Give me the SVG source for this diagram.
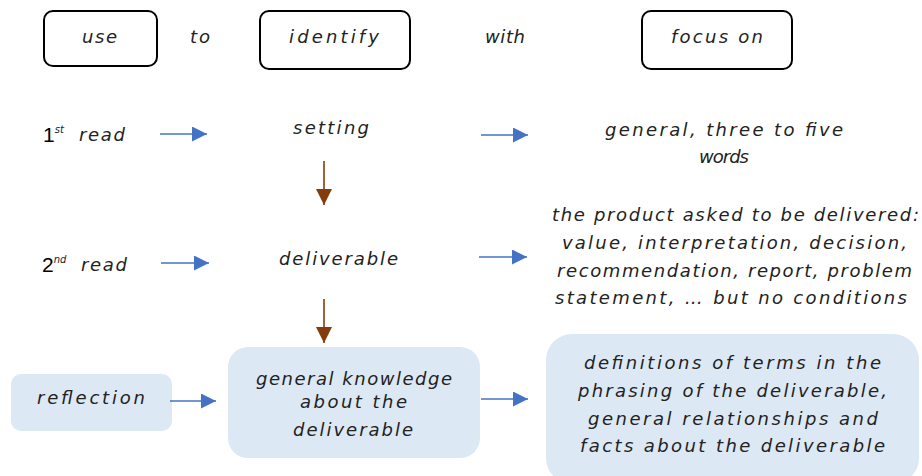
<svg xmlns="http://www.w3.org/2000/svg" width="922" height="476" viewBox="0 0 922 476">
<style>
.t{font-family:"DejaVu Sans","Liberation Sans",sans-serif;font-style:italic;font-weight:300;font-size:18px;fill:#222;text-anchor:start}
.hb{fill:#fff;stroke:#000;stroke-width:2}
.bb{fill:#dde8f5;stroke:none}
.ab{stroke:#4472c4;stroke-width:1.6;fill:none;marker-end:url(#mb)}
.ar{stroke:#843c0c;stroke-width:1.6;fill:none;marker-end:url(#mr)}
.num{font-family:"Liberation Sans","DejaVu Sans",sans-serif;font-size:21px;fill:#000}
.sup{font-family:"DejaVu Sans",sans-serif;font-style:italic;font-size:10px;fill:#222}
</style>
<defs>
<marker id="mb" viewBox="0 0 15 15" refX="15" refY="7.5" markerWidth="15" markerHeight="15" markerUnits="userSpaceOnUse" orient="auto"><path d="M0,0 L15,7.5 L0,15 z" fill="#4472c4"/></marker>
<marker id="mr" viewBox="0 0 16 16" refX="16" refY="8" markerWidth="16" markerHeight="16" markerUnits="userSpaceOnUse" orient="auto"><path d="M0,0 L16,8 L0,16 z" fill="#843c0c"/></marker>
</defs>

<g id="h-use"><rect class="hb" x="44" y="11" width="113" height="55" rx="9"/><text class="t" x="82" y="43" textLength="35">use</text></g>
<g id="h-to"><text class="t" x="190" y="43" textLength="20">to</text></g>
<g id="h-identify"><rect class="hb" x="260" y="11" width="150" height="58" rx="9"/><text class="t" x="289" y="43" textLength="90">identify</text></g>
<g id="h-with"><text class="t" x="485" y="43" textLength="40">with</text></g>
<g id="h-focus"><rect class="hb" x="642" y="11" width="150" height="58" rx="9"/><text class="t" x="671" y="43" textLength="92">focus on</text></g>

<g id="read1"><text x="43" y="142"><tspan class="num">1</tspan><tspan class="sup" dy="-9">st</tspan><tspan class="t" x="79" y="141" textLength="46">read</tspan></text></g>
<g id="setting"><text class="t" x="293" y="134" textLength="76">setting</text></g>
<g id="focus1"><text class="t" x="605" y="136" textLength="238">general, three to five</text><text class="t" x="699" y="163" textLength="50">words</text></g>

<g id="read2"><text x="42" y="272"><tspan class="num">2</tspan><tspan class="sup" dy="-9">nd</tspan><tspan class="t" x="81" y="271" textLength="46">read</tspan></text></g>
<g id="deliverable"><text class="t" x="279" y="265" textLength="119">deliverable</text></g>
<g id="focus2">
<text class="t" x="552" y="221" textLength="367">the product asked to be delivered:</text>
<text class="t" x="562" y="249" textLength="345">value, interpretation, decision,</text>
<text class="t" x="557" y="277" textLength="355">recommendation, report, problem</text>
<text class="t" x="555" y="304" textLength="352">statement, … but no conditions</text>
</g>

<g id="reflection"><rect class="bb" x="11" y="374" width="161" height="57" rx="10"/><text class="t" x="37" y="404" textLength="108">reflection</text></g>
<g id="knowledge"><rect class="bb" x="228" y="347" width="252" height="111" rx="20"/>
<text class="t" x="256" y="385" textLength="196">general knowledge</text>
<text class="t" x="300" y="408" textLength="107">about the</text>
<text class="t" x="293" y="436" textLength="120">deliverable</text></g>
<g id="focus3"><rect class="bb" x="546" y="334" width="373" height="150" rx="26"/>
<text class="t" x="584" y="369" textLength="297">definitions of terms in the</text>
<text class="t" x="578" y="397" textLength="309">phrasing of the deliverable,</text>
<text class="t" x="588" y="425" textLength="290">general relationships and</text>
<text class="t" x="580" y="452" textLength="305">facts about the deliverable</text></g>

<g id="connectors">
<line class="ab" x1="160" y1="134" x2="207" y2="134"/>
<line class="ab" x1="481" y1="135" x2="528" y2="135"/>
<line class="ab" x1="161" y1="263" x2="209" y2="263"/>
<line class="ab" x1="479" y1="257" x2="527" y2="257"/>
<line class="ab" x1="170" y1="401" x2="216" y2="401"/>
<line class="ab" x1="481" y1="399" x2="528" y2="399"/>
<line class="ar" x1="324" y1="161" x2="324" y2="205"/>
<line class="ar" x1="324" y1="299" x2="324" y2="343"/>
</g>
</svg>
